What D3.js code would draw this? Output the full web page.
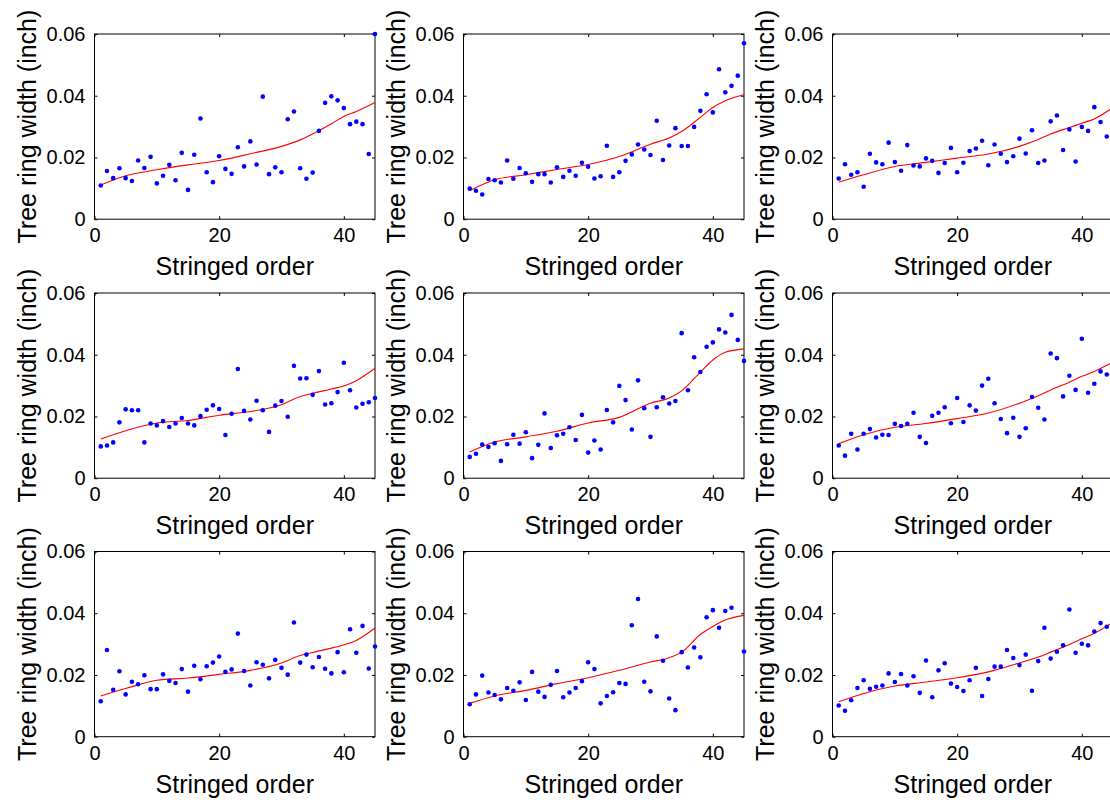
<!DOCTYPE html>
<html>
<head>
<meta charset="utf-8">
<script src="https://cdn.jsdelivr.net/npm/d3@7"></script>
<style>
  body { margin: 0; background: #fff; }
  svg { display: block; }
  text { font-family: "Liberation Sans", Arial, Helvetica, sans-serif; fill: #000; }
</style>
</head>
<body>
<svg id="chart" width="1110" height="804"></svg>
<script>
// ---- data ----
const order = d3.range(1, 46); // stringed order 1..45
const xTicks = [0, 20, 40];
const yTicks = [0, 0.02, 0.04, 0.06];
const yTickLabels = ["0", "0.02", "0.04", "0.06"];
const xLabel = "Stringed order";
const yLabel = "Tree ring width (inch)";

const widths1 = [0.0109,0.0156,0.0133,0.0165,0.0133,0.0124,0.0190,0.0166,0.0202,0.0116,0.0141,0.0176,0.0126,0.0215,0.0095,0.0209,0.0326,0.0152,0.0120,0.0204,0.0163,0.0147,0.0233,0.0171,0.0252,0.0177,0.0397,0.0146,0.0168,0.0152,0.0324,0.0349,0.0165,0.0131,0.0151,0.0286,0.0377,0.0398,0.0385,0.0360,0.0308,0.0316,0.0308,0.0211,0.0600];
const widths2 = [0.0099,0.0092,0.0080,0.0130,0.0126,0.0119,0.0190,0.0131,0.0166,0.0149,0.0121,0.0146,0.0146,0.0119,0.0168,0.0137,0.0157,0.0141,0.0183,0.0170,0.0132,0.0139,0.0238,0.0137,0.0152,0.0189,0.0210,0.0242,0.0226,0.0208,0.0319,0.0192,0.0239,0.0295,0.0237,0.0237,0.0299,0.0351,0.0405,0.0346,0.0486,0.0411,0.0432,0.0465,0.0570];
const widths3 = [0.0132,0.0178,0.0144,0.0152,0.0105,0.0212,0.0184,0.0178,0.0248,0.0185,0.0157,0.0240,0.0174,0.0171,0.0197,0.0189,0.0150,0.0182,0.0231,0.0152,0.0183,0.0221,0.0229,0.0254,0.0175,0.0242,0.0212,0.0185,0.0204,0.0261,0.0213,0.0288,0.0182,0.0190,0.0317,0.0336,0.0224,0.0291,0.0187,0.0299,0.0286,0.0363,0.0315,0.0268,0.0300];
const widths4 = [0.0103,0.0106,0.0116,0.0181,0.0223,0.0220,0.0220,0.0116,0.0177,0.0171,0.0185,0.0166,0.0177,0.0195,0.0177,0.0171,0.0201,0.0222,0.0236,0.0224,0.0140,0.0209,0.0354,0.0218,0.0190,0.0251,0.0220,0.0150,0.0235,0.0250,0.0199,0.0364,0.0323,0.0324,0.0270,0.0347,0.0239,0.0243,0.0279,0.0374,0.0285,0.0229,0.0241,0.0246,0.0260];
const widths5 = [0.0069,0.0079,0.0109,0.0101,0.0113,0.0056,0.0110,0.0141,0.0112,0.0149,0.0065,0.0108,0.0210,0.0098,0.0139,0.0144,0.0165,0.0124,0.0205,0.0083,0.0122,0.0093,0.0221,0.0181,0.0299,0.0253,0.0158,0.0317,0.0227,0.0134,0.0230,0.0262,0.0242,0.0250,0.0470,0.0285,0.0392,0.0344,0.0426,0.0440,0.0482,0.0472,0.0529,0.0448,0.0380];
const widths6 = [0.0106,0.0073,0.0144,0.0093,0.0144,0.0159,0.0132,0.0141,0.0140,0.0176,0.0169,0.0176,0.0212,0.0134,0.0114,0.0202,0.0212,0.0230,0.0178,0.0260,0.0182,0.0236,0.0219,0.0300,0.0322,0.0243,0.0192,0.0146,0.0196,0.0134,0.0162,0.0263,0.0228,0.0190,0.0404,0.0389,0.0265,0.0332,0.0286,0.0452,0.0277,0.0306,0.0346,0.0336,0.0350];
const widths7 = [0.0115,0.0281,0.0152,0.0212,0.0137,0.0178,0.0170,0.0199,0.0154,0.0154,0.0202,0.0181,0.0174,0.0219,0.0146,0.0230,0.0186,0.0228,0.0240,0.0260,0.0210,0.0218,0.0334,0.0213,0.0166,0.0241,0.0233,0.0189,0.0249,0.0223,0.0201,0.0370,0.0240,0.0266,0.0225,0.0258,0.0220,0.0205,0.0274,0.0209,0.0348,0.0272,0.0359,0.0221,0.0292];
const widths8 = [0.0105,0.0137,0.0198,0.0143,0.0135,0.0121,0.0158,0.0149,0.0176,0.0119,0.0210,0.0146,0.0129,0.0168,0.0213,0.0128,0.0143,0.0158,0.0180,0.0241,0.0219,0.0108,0.0132,0.0144,0.0174,0.0171,0.0361,0.0446,0.0178,0.0147,0.0325,0.0246,0.0124,0.0086,0.0274,0.0224,0.0289,0.0257,0.0387,0.0410,0.0353,0.0407,0.0418,null,0.0276];
const widths9 = [0.0101,0.0084,0.0118,0.0158,0.0183,0.0155,0.0162,0.0166,0.0205,0.0177,0.0203,0.0166,0.0196,0.0142,0.0247,0.0128,0.0215,0.0238,0.0172,0.0161,0.0148,0.0183,0.0223,0.0132,0.0187,0.0227,0.0227,0.0281,0.0255,0.0232,0.0266,0.0149,0.0245,0.0353,0.0253,0.0275,0.0296,0.0412,0.0272,0.0301,0.0296,0.0341,0.0368,0.0356,0.0360];

// fitted trend curves, sampled at these stringed-order positions
const fitOrder = [1, 5, 10, 15, 20, 25, 30, 33, 35, 38, 40, 42, 45];
const fit1 = [0.0111,0.0141,0.0160,0.0176,0.0190,0.0212,0.0236,0.0257,0.0276,0.0309,0.0333,0.0349,0.0378];
const fit2 = [0.0093,0.0128,0.0144,0.0161,0.0177,0.0203,0.0243,0.0263,0.0284,0.0330,0.0362,0.0384,0.0403];
const fit3 = [0.0120,0.0144,0.0171,0.0184,0.0198,0.0211,0.0236,0.0258,0.0276,0.0297,0.0311,0.0325,0.0362];
const fit4 = [0.0127,0.0154,0.0179,0.0187,0.0204,0.0216,0.0238,0.0265,0.0275,0.0289,0.0299,0.0316,0.0356];
const fit5 = [0.0085,0.0117,0.0134,0.0152,0.0179,0.0197,0.0243,0.0260,0.0283,0.0344,0.0383,0.0408,0.0419];
const fit6 = [0.0112,0.0141,0.0165,0.0177,0.0193,0.0211,0.0243,0.0267,0.0286,0.0311,0.0330,0.0346,0.0376];
const fit7 = [0.0132,0.0156,0.0183,0.0190,0.0202,0.0215,0.0239,0.0263,0.0273,0.0287,0.0298,0.0312,0.0352];
const fit8 = [0.0108,0.0132,0.0150,0.0172,0.0191,0.0215,0.0242,0.0256,0.0274,0.0331,0.0357,0.0378,0.0393];
const fit9 = [0.0113,0.0140,0.0164,0.0177,0.0191,0.0210,0.0239,0.0258,0.0274,0.0299,0.0317,0.0335,0.0371];

const panels = [
  { w: widths1, f: fit1 }, { w: widths2, f: fit2 }, { w: widths3, f: fit3 },
  { w: widths4, f: fit4 }, { w: widths5, f: fit5 }, { w: widths6, f: fit6 },
  { w: widths7, f: fit7 }, { w: widths8, f: fit8 }, { w: widths9, f: fit9 }
];

// ---- layout ----
const colLeft = [94.5, 463.5, 832.5];
const rowTop = [34, 293, 551.5];
const pw = 280.5, ph = 185.2;
const tickLen = 3;

const svg = d3.select("#chart");

panels.forEach((p, i) => {
  const col = i % 3, row = Math.floor(i / 3);
  const g = svg.append("g").attr("transform", `translate(${colLeft[col]},${rowTop[row]})`);
  const x = d3.scaleLinear().domain([0, 45]).range([0, pw]);
  const y = d3.scaleLinear().domain([0, 0.06]).range([ph, 0]);

  // frame
  g.append("rect").attr("x", 0).attr("y", 0).attr("width", pw).attr("height", ph)
    .attr("fill", "none").attr("stroke", "#000").attr("stroke-width", 1);

  // inward ticks on all four sides
  const bottomAxis = d3.axisBottom(x).tickValues(xTicks).tickSize(-tickLen).tickFormat(d3.format("d")).tickPadding(9);
  const gb = g.append("g").attr("transform", `translate(0,${ph})`).call(bottomAxis);
  gb.select(".domain").remove();
  gb.selectAll("text").attr("font-size", 20).attr("dy", "0.71em");
  const topAxis = d3.axisTop(x).tickValues(xTicks).tickSize(-tickLen).tickFormat("");
  g.append("g").call(topAxis).select(".domain").remove();

  const leftAxis = d3.axisLeft(y).tickValues(yTicks).tickSize(-tickLen)
    .tickFormat((d, k) => yTickLabels[k]).tickPadding(9);
  const gl = g.append("g").call(leftAxis);
  gl.select(".domain").remove();
  gl.selectAll("text").attr("font-size", 20);
  const rightAxis = d3.axisRight(y).tickValues(yTicks).tickSize(-tickLen).tickFormat("");
  g.append("g").attr("transform", `translate(${pw},0)`).call(rightAxis).select(".domain").remove();
  g.selectAll(".tick line").attr("stroke", "#000");
  g.selectAll(".tick text").attr("font-family", "Liberation Sans, Arial, sans-serif").attr("fill", "#000");

  // labels
  g.append("text").attr("x", pw / 2).attr("y", ph + 56).attr("text-anchor", "middle")
    .attr("font-size", 25).text(xLabel);
  g.append("text").attr("transform", `translate(${-59},${ph / 2}) rotate(-90)`)
    .attr("text-anchor", "middle").attr("font-size", 25).text(yLabel);

  // trend curve
  const line = d3.line().x((d, k) => x(fitOrder[k])).y(d => y(d)).curve(d3.curveMonotoneX);
  g.append("path").datum(p.f).attr("d", line).attr("fill", "none")
    .attr("stroke", "#ff0000").attr("stroke-width", 1.1);

  // data points
  const pts = order.map((o, k) => ({ o, v: p.w[k] })).filter(d => d.v !== null);
  g.selectAll("circle.pt").data(pts).enter().append("circle").attr("class", "pt")
    .attr("cx", d => x(d.o)).attr("cy", d => y(d.v)).attr("r", 2.3).attr("fill", "#0000ff");
});
</script>
</body>
</html>
